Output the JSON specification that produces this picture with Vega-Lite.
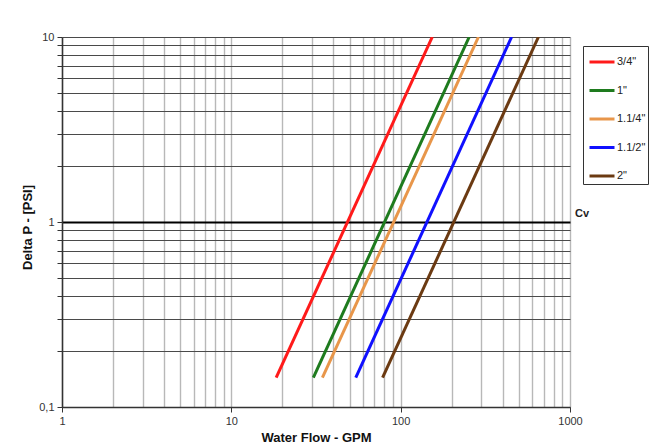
{
  "$schema": "https://vega.github.io/schema/vega-lite/v6.json",
  "width": 508,
  "height": 370,
  "autosize": {"type": "none"},
  "padding": {"left": 62, "top": 37, "right": 93, "bottom": 38},
  "background": "white",
  "config": {"view": {"stroke": null}, "font": "Liberation Sans"},
  "layer": [
    {
      "data": {
        "values": [
          {"size": "3/4\"", "Q": 18.4, "dp": 0.144},
          {"size": "3/4\"", "Q": 153.7, "dp": 10},
          {"size": "1\"", "Q": 30.5, "dp": 0.144},
          {"size": "1\"", "Q": 254, "dp": 10},
          {"size": "1.1/4\"", "Q": 34.5, "dp": 0.144},
          {"size": "1.1/4\"", "Q": 288, "dp": 10},
          {"size": "1.1/2\"", "Q": 54.3, "dp": 0.144},
          {"size": "1.1/2\"", "Q": 452, "dp": 10},
          {"size": "2\"", "Q": 78.2, "dp": 0.144},
          {"size": "2\"", "Q": 651, "dp": 10}
        ]
      },
      "mark": {"type": "line", "strokeWidth": 3, "clip": true},
      "encoding": {
        "x": {
          "field": "Q",
          "type": "quantitative",
          "scale": {"type": "log", "domain": [1, 1000], "nice": false},
          "axis": {
            "title": "Water Flow - GPM",
            "values": [1, 2, 3, 4, 5, 6, 7, 8, 9, 10, 20, 30, 40, 50, 60, 70, 80, 90, 100, 200, 300, 400, 500, 600, 700, 800, 900, 1000],
            "labelExpr": "(datum.value == 1 || datum.value == 10 || datum.value == 100 || datum.value == 1000) ? '' + datum.value : ''",
            "grid": true,
            "gridColor": "#b8b8b8",
            "gridWidth": 1.4,
            "tickSize": {"condition": {"test": "datum.value == 1 || datum.value == 10 || datum.value == 100 || datum.value == 1000", "value": 5}, "value": 0},
            "tickColor": "#333333",
            "domainColor": "#333333",
            "domainWidth": 1.5,
            "labelFontSize": 11,
            "labelColor": "#333333",
            "labelPadding": 3,
            "labelFlush": false,
            "labelOverlap": false,
            "labelBound": false,
            "titleFontSize": 13,
            "titleFontWeight": "bold",
            "titleColor": "#111111",
            "titleY": 30,
            "titleBaseline": "middle"
          }
        },
        "y": {
          "field": "dp",
          "type": "quantitative",
          "scale": {"type": "log", "domain": [0.1, 10], "nice": false},
          "axis": {
            "title": "Delta P - [PSI]",
            "values": [0.1, 0.2, 0.3, 0.4, 0.5, 0.6, 0.7, 0.8, 0.9, 1, 2, 3, 4, 5, 6, 7, 8, 9, 10],
            "labelExpr": "datum.value == 0.1 ? '0,1' : (datum.value == 1 ? '1' : (datum.value == 10 ? '10' : ''))",
            "grid": true,
            "gridColor": {"condition": {"test": "datum.value == 1", "value": "#000000"}, "value": "#4a4a4a"},
            "gridWidth": {"condition": {"test": "datum.value == 1", "value": 2}, "value": 1},
            "tickSize": 5,
            "tickColor": "#333333",
            "domainColor": "#333333",
            "domainWidth": 1.5,
            "labelFontSize": 11,
            "labelColor": "#333333",
            "labelPadding": 3,
            "labelFlush": false,
            "labelOverlap": false,
            "labelBound": false,
            "titleFontSize": 13,
            "titleFontWeight": "bold",
            "titleColor": "#111111",
            "titleX": -35,
            "titleY": 190,
            "titleAlign": "center",
            "titleBaseline": "middle"
          }
        },
        "color": {
          "field": "size",
          "type": "nominal",
          "scale": {
            "domain": ["3/4\"", "1\"", "1.1/4\"", "1.1/2\"", "2\""],
            "range": ["#ff1a1a", "#1e7b1e", "#e8964a", "#1010ff", "#6b3a12"]
          },
          "legend": {
            "title": null,
            "orient": "none",
            "legendX": 521,
            "legendY": 9,
            "symbolType": "stroke",
            "symbolSize": 625,
            "symbolStrokeWidth": 3,
            "rowPadding": 8.5,
            "padding": 2,
            "symbolOffset": 3,
            "strokeColor": "#333333",
            "labelFontSize": 11,
            "labelColor": "#222222",
            "labelOffset": 1,
            "labelFont": "Liberation Sans"
          }
        }
      }
    },
    {
      "data": {"values": [{"Q": 1000, "dp": 1, "label": "Cv"}]},
      "mark": {"type": "text", "align": "left", "baseline": "middle", "dx": 5, "dy": -8, "fontWeight": "bold", "fontSize": 11, "color": "#222222", "clip": false},
      "encoding": {
        "x": {"field": "Q", "type": "quantitative"},
        "y": {"field": "dp", "type": "quantitative"},
        "text": {"field": "label"}
      }
    }
  ]
}
